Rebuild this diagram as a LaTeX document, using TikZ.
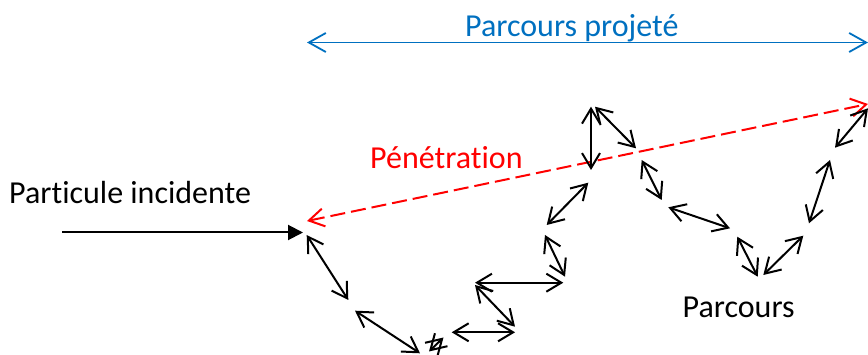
\documentclass[tikz,border=0pt]{standalone}
\usepackage{fontspec}
\setmainfont{Carlito}[Ligatures=NoCommon]
\usetikzlibrary{arrows.meta}
\definecolor{projblue}{RGB}{0,112,192}
\definecolor{penred}{RGB}{255,0,0}

\begin{document}
\begin{tikzpicture}[x=1pt,y=-1pt,
	lbl/.style={anchor=base west,inner sep=0pt,font=\fontsize{32}{38}\selectfont},
	hop/.style={{Straight Barb[length=15pt,width=18pt]}-{Straight Barb[length=15pt,width=18pt]},line width=2pt},
	]
	  \useasboundingbox (0,0) rectangle (868,355);
	  \coordinate (inA) at (62,232.5);
	  \coordinate (inB) at (303,232.5);
	  \coordinate (penA) at (307,221);
	  \coordinate (penB) at (868,104);
	  \coordinate (projA) at (307,42.5);
	  \coordinate (projB) at (868,42.5);
	  \draw [line width=2pt,-{Triangle[length=15pt,width=15pt]}] (inA) -- (inB);
	  \draw [penred,line width=2pt,dash pattern=on 15pt off 6pt,{Straight Barb[length=15pt,width=18pt]}-{Straight Barb[length=15pt,width=18pt]}] (penA) -- (penB);
	  \draw [projblue,line width=1.8pt,{Straight Barb[length=17pt,width=19pt]}-{Straight Barb[length=17pt,width=19pt]}] (projA) -- (projB);
	  \foreach \i/\xa/\ya/\xb/\yb in {1/306.7/235/348.3/300, 2/355/310.7/420/353.3, 3/429/351.5/443.5/337.5, 4/451.7/332.3/515/332.3,
	  	5/475/285/515/326.7, 6/475/282.7/563.3/282.7, 7/545/235/565/276.7, 8/546.7/225/588.3/182.7,
	  	9/591/106.7/591/170, 10/595/106.7/636/148.3, 11/641.7/160/661.7/200, 12/668.3/207.3/730/228.3,
	  	13/737.3/236.7/757.7/276.7, 14/763.3/275/803.3/235.7, 15/809/223.3/830/160, 16/835/147.7/868/108.3} {
	  	\coordinate (a\i) at (\xa,\ya);
	  	\coordinate (b\i) at (\xb,\yb);
	  	\draw [hop] (a\i) -- (b\i);
	  }
	  \node [lbl] (incident) at (9,203.5) {Particule incidente};
	  \node [lbl,text=penred] (penetration) at (370,168.5) {Pénétration};
	  \node [lbl,text=projblue] (projete) at (465,36.5) {Parcours projeté};
	  \node [lbl] (parcours) at (682.5,317.5) {Parcours};
	 \end{tikzpicture}
\end{document}
